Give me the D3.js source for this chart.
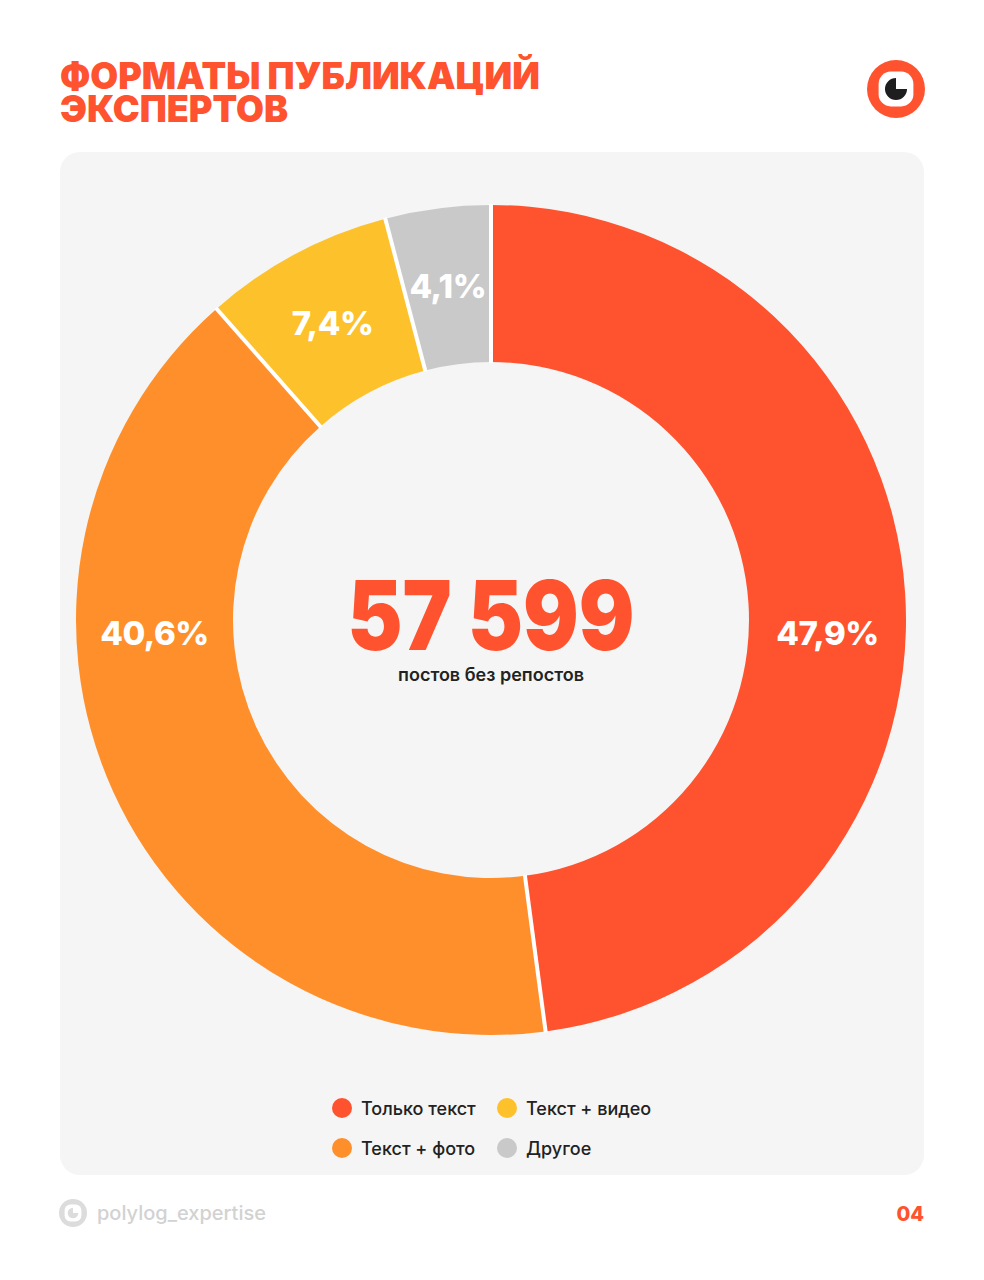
<!DOCTYPE html>
<html lang="ru">
<head>
<meta charset="utf-8">
<script src="https://cdn.jsdelivr.net/npm/d3@7"></script>
<style>
  body { margin: 0; background: #fff; }
  svg { display: block; font-family: Inter, "Noto Sans", sans-serif; }
</style>
</head>
<body>
<svg id="chart"></svg>
<script>
// data
const categories = ["Только текст", "Текст + фото", "Текст + видео", "Другое"];
const shares     = [47.9, 40.6, 7.4, 4.1];
const colors     = ["#ff522e", "#ff8f2b", "#fdc22b", "#c9c9c9"];
const legendOrder = [0, 2, 1, 3]; // read row by row: red, yellow / orange, gray
const totalPosts = 57599;
const totalCaption = "постов без репостов";
const titleLines = ["ФОРМАТЫ ПУБЛИКАЦИЙ", "ЭКСПЕРТОВ"];
const handle = "polylog_expertise";
const pageNo = "04";

const W = 984, H = 1280;
const accent = "#ff522e";

const svg = d3.select("#chart")
  .attr("width", W)
  .attr("height", H);

svg.append("rect").attr("width", W).attr("height", H).attr("fill", "#fff");

// title
const title = svg.append("g").attr("fill", accent)
  .attr("font-weight", 900).attr("font-size", 37);
title.append("text").attr("x", 60).attr("y", 89)
  .attr("textLength", 480).attr("lengthAdjust", "spacingAndGlyphs")
  .text(titleLines[0]);
title.append("text").attr("x", 60).attr("y", 122)
  .attr("textLength", 228).attr("lengthAdjust", "spacingAndGlyphs")
  .text(titleLines[1]);

// logo top right
function drawLogo(g, r, ring, inner, mark) {
  g.append("circle").attr("r", r).attr("fill", ring);
  g.append("rect")
    .attr("x", -r * 0.6).attr("y", -r * 0.6)
    .attr("width", r * 1.2).attr("height", r * 1.2)
    .attr("rx", r * 0.42).attr("fill", inner);
  g.append("path")
    .attr("d", d3.arc()({ innerRadius: 0, outerRadius: r * 0.38,
                          startAngle: Math.PI / 2, endAngle: Math.PI * 2 }))
    .attr("fill", mark);
}
drawLogo(svg.append("g").attr("transform", "translate(896,89)"),
  29, accent, "#fff", "#1e1e1e");

// panel
svg.append("rect")
  .attr("x", 60).attr("y", 152)
  .attr("width", 864).attr("height", 1023)
  .attr("rx", 20)
  .attr("fill", "#f5f5f5");

// donut
const cx = 491, cy = 620;
const outerR = 415, innerR = 258;
const data = categories.map((c, i) => ({ name: c, value: shares[i], color: colors[i] }));

const pie = d3.pie().value(d => d.value).sort(null)
  .startAngle(0).endAngle(2 * Math.PI);
const arcs = pie(data);
const arc = d3.arc().innerRadius(innerR).outerRadius(outerR);

const donut = svg.append("g").attr("transform", `translate(${cx},${cy})`);

donut.selectAll("path.slice")
  .data(arcs)
  .join("path")
    .attr("class", "slice")
    .attr("d", arc)
    .attr("fill", d => d.data.color);

// white separators along slice boundaries
donut.selectAll("line.sep")
  .data(arcs)
  .join("line")
    .attr("class", "sep")
    .attr("x1", d => Math.sin(d.startAngle) * (innerR - 1))
    .attr("y1", d => -Math.cos(d.startAngle) * (innerR - 1))
    .attr("x2", d => Math.sin(d.startAngle) * (outerR + 1))
    .attr("y2", d => -Math.cos(d.startAngle) * (outerR + 1))
    .attr("stroke", "#fff")
    .attr("stroke-width", 4);

// percentage labels
const fmtPct = v => String(v).replace(".", ",") + "%";
const midR = (innerR + outerR) / 2;
function labelPos(d) {
  // big slices: label sits on the horizontal axis they cover, a bit low
  for (const a of [Math.PI / 2, Math.PI * 1.5]) {
    if (d.startAngle < a && d.endAngle > a) {
      return [Math.sin(a) * midR, -Math.cos(a) * midR + 13];
    }
  }
  return d3.arc().innerRadius(midR).outerRadius(midR).centroid(d);
}
donut.selectAll("text.pct")
  .data(arcs)
  .join("text")
    .attr("class", "pct")
    .attr("x", d => labelPos(d)[0])
    .attr("y", d => labelPos(d)[1] + 12)
    .attr("text-anchor", "middle")
    .attr("fill", "#fff")
    .attr("font-size", 33)
    .attr("font-weight", 800)
    .attr("letter-spacing", -0.5)
    .text(d => fmtPct(d.data.value));

// center total
donut.append("text")
  .attr("x", 0).attr("y", 30)
  .attr("text-anchor", "middle")
  .attr("fill", accent)
  .attr("font-size", 96)
  .attr("font-weight", 900)
  .attr("textLength", 287).attr("lengthAdjust", "spacingAndGlyphs")
  .text(d3.format(",")(totalPosts).replace(",", " "));

donut.append("text")
  .attr("x", 0).attr("y", 61)
  .attr("text-anchor", "middle")
  .attr("fill", "#222")
  .attr("font-size", 18)
  .attr("font-weight", 600)
  .text(totalCaption);

// legend
const legend = svg.append("g").attr("transform", "translate(342,1108)");
const legendItems = legend.selectAll("g.item")
  .data(legendOrder.map(i => data[i]))
  .join("g")
    .attr("class", "item")
    .attr("transform", (d, i) => `translate(${(i % 2) * 165},${Math.floor(i / 2) * 40})`);
legendItems.append("circle").attr("r", 10).attr("fill", d => d.color);
legendItems.append("text")
  .attr("x", 19).attr("y", 6.5)
  .attr("fill", "#222")
  .attr("font-size", 18)
  .attr("font-weight", 500)
  .text(d => d.name);

// footer
drawLogo(svg.append("g").attr("transform", "translate(73,1213)"),
  14, "#dcdcdc", "#fff", "#dcdcdc");
svg.append("text")
  .attr("x", 97).attr("y", 1220)
  .attr("fill", "#d2d2d2")
  .attr("font-size", 20)
  .attr("font-weight", 500)
  .text(handle);
svg.append("text")
  .attr("x", 924).attr("y", 1221)
  .attr("text-anchor", "end")
  .attr("fill", accent)
  .attr("font-size", 20)
  .attr("font-weight", 800)
  .text(pageNo);
</script>
</body>
</html>
